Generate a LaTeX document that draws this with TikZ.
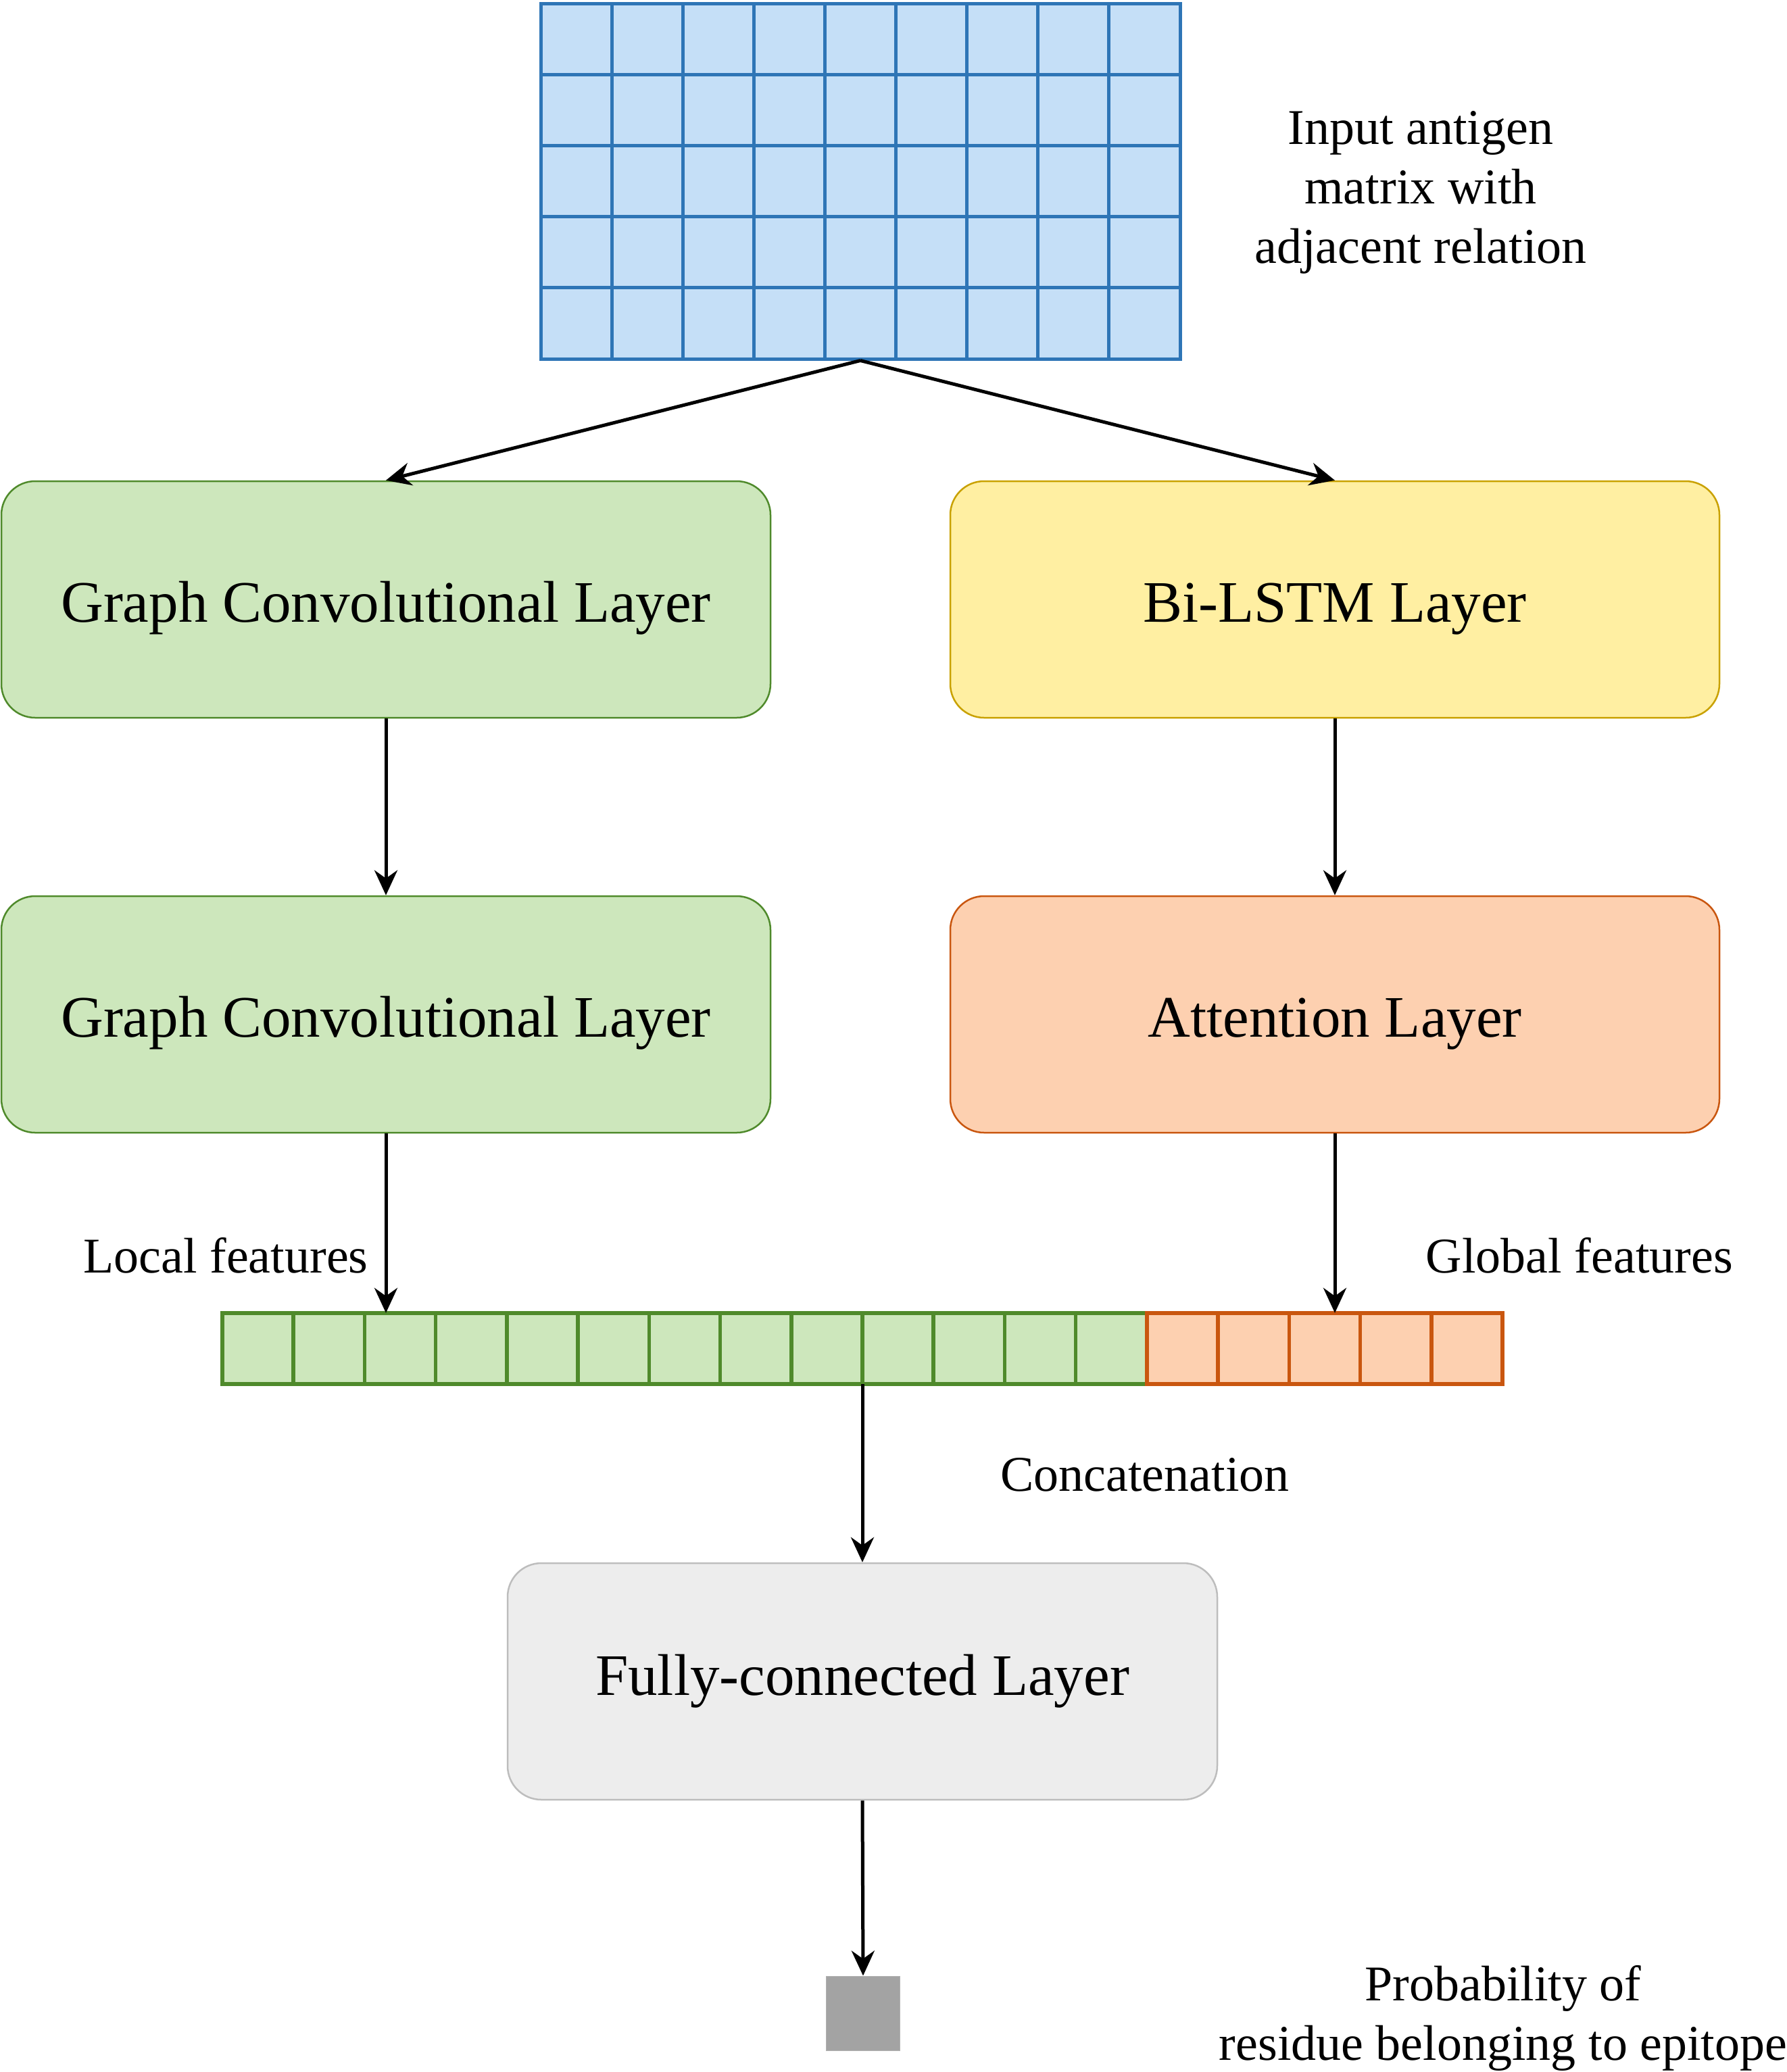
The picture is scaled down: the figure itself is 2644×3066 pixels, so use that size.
\documentclass[tikz,border=0pt]{standalone}
\usepackage{fontspec}
\setmainfont{Liberation Serif}
\usetikzlibrary{arrows.meta}
\definecolor{mfill}{HTML}{C5DFF7}
\definecolor{mline}{HTML}{2E75B6}
\definecolor{gfill}{HTML}{CDE7BC}
\definecolor{gline}{HTML}{4F8A2B}
\definecolor{yfill}{HTML}{FFEFA2}
\definecolor{yline}{HTML}{C9A100}
\definecolor{ofill}{HTML}{FDD0B0}
\definecolor{oline}{HTML}{C9560F}
\definecolor{ffill}{HTML}{EDEDED}
\definecolor{fline}{HTML}{BDBDBD}
\definecolor{sqfill}{HTML}{A3A3A3}
\tikzset{
  layerbox/.style={rounded corners=50pt, line width=2.5pt, minimum width=1138pt, minimum height=350pt,
    inner sep=0pt, font=\fontsize{87}{104}\selectfont, text height=66pt, text depth=0pt},
  lbl/.style={inner sep=0pt, font=\fontsize{74}{88}\selectfont, align=center},
  arr/.style={line width=5pt, -{Stealth[length=37pt,width=34pt,inset=12pt]}},
}
\begin{document}
\begin{tikzpicture}[x=1pt,y=-1pt]
\useasboundingbox (0,0) rectangle (2644,3066);
% input matrix
\node[draw=mline, fill=mfill, line width=5pt, minimum width=946pt, minimum height=526pt, inner sep=0pt] (mat) at (1273,268) {};
\foreach \i in {1,...,8} {
  \draw[mline, line width=5pt] ({800+\i*105.11},5) -- ({800+\i*105.11},531);
}
\foreach \j in {1,...,4} {
  \draw[mline, line width=5pt] (800,{5+\j*105.2}) -- (1746,{5+\j*105.2});
}
\node[lbl] (inp) at (2102,285) {Input antigen\\matrix with\\adjacent relation};
% layer boxes
\node[layerbox, draw=gline, fill=gfill] (g1) at (571,887) {Graph Convolutional Layer};
\node[layerbox, draw=yline, fill=yfill] (bl) at (1975,887) {Bi-LSTM Layer};
\node[layerbox, draw=gline, fill=gfill] (g2) at (571,1501) {Graph Convolutional Layer};
\node[layerbox, draw=oline, fill=ofill] (att) at (1975,1501) {Attention Layer};
% feature vector
\node[minimum width=1894pt, minimum height=105pt, inner sep=0pt] (vec) at (1276,1995.5) {};
\draw[gline, fill=gfill, line width=6pt] (329,1943) rectangle (1697,2048);
\foreach \i in {1,...,12} {
  \draw[gline, line width=5.5pt] ({329+\i*105.22},1943) -- ({329+\i*105.22},2048);
}
\draw[oline, fill=ofill, line width=6pt] (1697,1943) rectangle (2223,2048);
\foreach \i in {1,...,4} {
  \draw[oline, line width=5.5pt] ({1697+\i*105.2},1943) -- ({1697+\i*105.2},2048);
}
\node[lbl] (loc) at (334,1858) {Local features};
\node[lbl] (glob) at (2337,1858) {Global features};
\node[lbl] (cat) at (1694,2182) {Concatenation};
% fully connected
\node[layerbox, draw=fline, fill=ffill, minimum width=1050pt, text height=40pt] (fc) at (1276,2488) {Fully-connected Layer};
\node[draw=sqfill!85!white, fill=sqfill, line width=1pt, minimum width=109pt, minimum height=110pt, inner sep=0pt] (out) at (1277,2979) {};
\node[lbl] (prob) at (2224,2986) {Probability of\\residue belonging to epitope};
% connectors
\draw[arr] (mat.south) -- (g1.north);
\draw[arr] (mat.south) -- (bl.north);
\draw[arr] (g1.south) -- (g2.north);
\draw[arr] (bl.south) -- (att.north);
\draw[arr] (g2.south) -- (g2.south |- vec.north);
\draw[arr] (att.south) -- (att.south |- vec.north);
\draw[arr] (vec.south) -- (fc.north);
\draw[arr] (fc.south) -- (out.north);
\end{tikzpicture}
\end{document}
